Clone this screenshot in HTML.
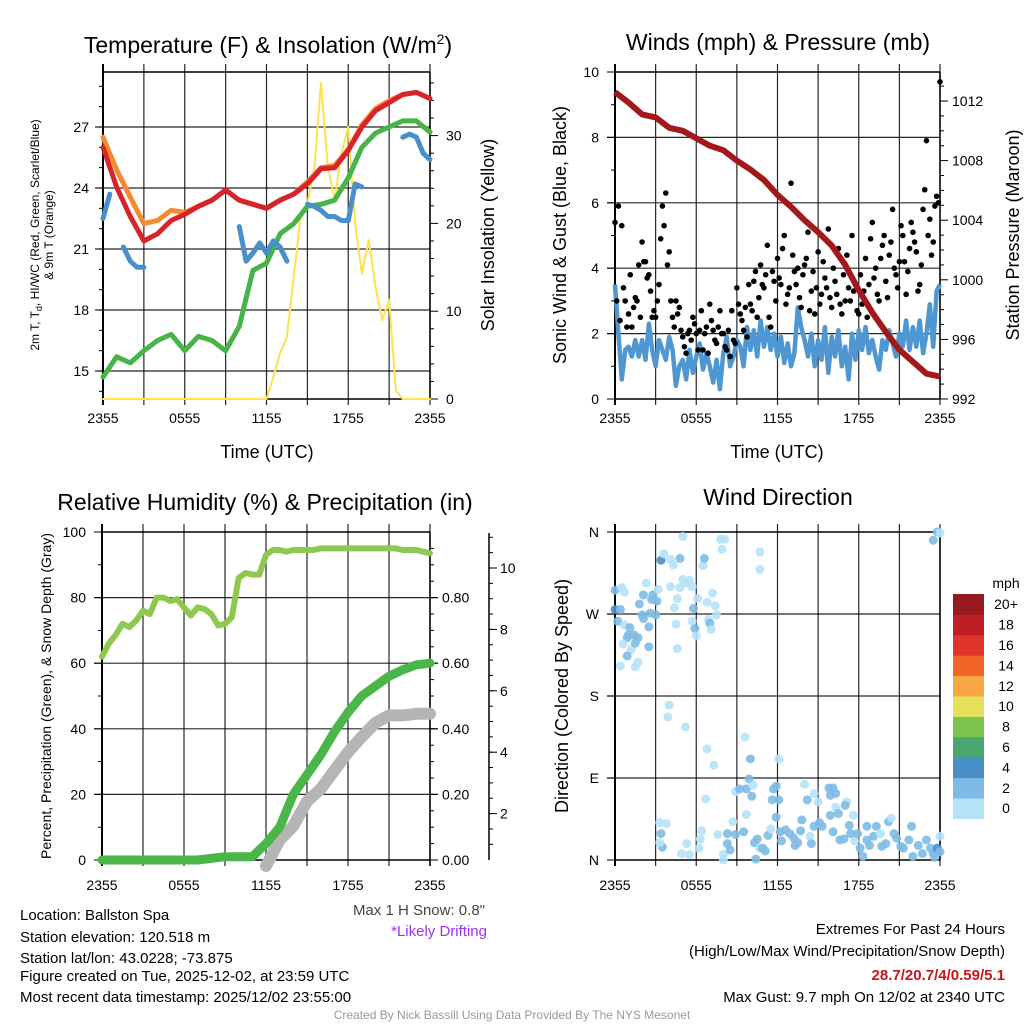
<!DOCTYPE html>
<html><head><meta charset="utf-8">
<style>
body{margin:0;background:#fff;}
svg{display:block;font-family:"Liberation Sans",Arial,sans-serif;}
</style></head>
<body>
<svg id="chart" width="1024" height="1024" viewBox="0 0 1024 1024" xmlns="http://www.w3.org/2000/svg">
<rect width="1024" height="1024" fill="#fff"/>
<g id="g1"></g>
<g id="g2"></g>
<g id="g3"></g>
<g id="g4"></g>
<g font-size="23" text-anchor="middle" fill="#000">
<text x="268" y="53">Temperature (F) &amp; Insolation (W/m<tspan font-size="14" dy="-9">2</tspan><tspan dy="9">)</tspan></text>
<text x="778" y="50">Winds (mph) &amp; Pressure (mb)</text>
<text x="265" y="510">Relative Humidity (%) &amp; Precipitation (in)</text>
<text x="778" y="505">Wind Direction</text>
</g>
<g font-size="18" text-anchor="middle">
<text x="267" y="458">Time (UTC)</text>
<text x="777" y="458">Time (UTC)</text>
<text transform="translate(45,235) rotate(-90)" font-size="12"><tspan x="0" dy="-6">2m T, T<tspan font-size="9" dy="3">d</tspan><tspan dy="-3">, HI/WC (Red, Green, Scarlet/Blue)</tspan></tspan><tspan x="0" dy="14">&amp; 9m T (Orange)</tspan></text>
<text transform="translate(494,235) rotate(-90)">Solar Insolation (Yellow)</text>
<text transform="translate(566,235) rotate(-90)">Sonic Wind &amp; Gust (Blue, Black)</text>
<text transform="translate(1019,235) rotate(-90)">Station Pressure (Maroon)</text>
<text transform="translate(51,696) rotate(-90)" font-size="14">Percent, Precipitation (Green), &amp; Snow Depth (Gray)</text>
<text transform="translate(568,696) rotate(-90)">Direction (Colored By Speed)</text>
</g>
<g font-size="15">
<text x="20" y="920">Location: Ballston Spa</text>
<text x="20" y="942">Station elevation: 120.518 m</text>
<text x="20" y="963">Station lat/lon: 43.0228; -73.875</text>
<text x="20" y="981">Figure created on Tue, 2025-12-02, at 23:59 UTC</text>
<text x="20" y="1002">Most recent data timestamp: 2025/12/02 23:55:00</text>
<text x="485" y="915" text-anchor="end" fill="#444">Max 1 H Snow: 0.8"</text>
<text x="487" y="936" text-anchor="end" fill="#a030f0">*Likely Drifting</text>
<text x="1005" y="934" text-anchor="end">Extremes For Past 24 Hours</text>
<text x="1005" y="956" text-anchor="end">(High/Low/Max Wind/Precipitation/Snow Depth)</text>
<text x="1005" y="980" text-anchor="end" fill="#c8161d" font-weight="bold">28.7/20.7/4/0.59/5.1</text>
<text x="1005" y="1002" text-anchor="end">Max Gust: 9.7 mph On 12/02 at 2340 UTC</text>
<text x="512" y="1019" text-anchor="middle" font-size="12" fill="#999">Created By Nick Bassill Using Data Provided By The NYS Mesonet</text>
</g>
</svg>
<script>
// ---------- data ----------
const timeTicks = ["2355","0555","1155","1755","2355"];
const tempRed = [26.0,24.05,22.6,21.4,21.75,22.4,22.7,23.1,23.4,23.9,23.4,23.2,23.0,23.4,23.7,24.2,24.95,25.0,25.85,27.0,27.8,28.2,28.6,28.7,28.4];
const tempOrange = [26.5,24.9,23.55,22.25,22.4,22.9,22.8,23.1,23.4,23.9,23.4,23.2,23.0,23.4,23.7,24.3,25.0,25.1,25.9,27.1,27.9,28.3,28.6,28.7,28.4];
const dewGreen = [14.7,15.7,15.4,16.0,16.5,16.8,16.0,16.7,16.5,16.0,17.2,19.95,20.3,21.75,22.25,23.1,23.2,23.4,24.5,26.0,26.7,27.0,27.3,27.3,26.75];
const windChillBlue = [22.5,23.7,null,21.1,20.4,20.1,20.1,null,null,null,null,20.8,null,null,null,null,null,null,null,null,22.1,20.4,20.8,21.3,20.8,21.4,21.1,20.4,null,null,23.2,23.1,22.9,22.6,22.6,22.4,22.4,24.2,24.05,null,26.0,null,26.5,null,26.5,26.65,26.5,25.7,25.4];
const solar = [0,0,0,0,0,0,0,0,0,0,0,0,0,0,0,0,0,0,0,0,0,0,0,0,0,2.5,5.2,7.1,14,20.8,22.3,26.1,36,26.5,22.7,28,31,20,14.3,18.1,12.8,9,11.3,1,0,0,0,0,0];
const tempTicks = [15,18,21,24,27];
const solarTicks = [0,10,20,30];

const pressure = [1012.6,1011.9,1011.1,1010.9,1010.2,1010,1009.5,1009,1008.7,1008,1007.4,1006.7,1005.7,1004.9,1004,1003.2,1002.3,1001,999.3,997.8,996.5,995.3,994.5,993.7,993.5];
const windSpeed = [3.5,2.0,0.6,1.5,1.6,1.3,1.8,1.3,1.8,1.2,2.3,1.5,1.0,1.8,1.5,1.2,1.9,1.5,0.4,1.0,1.2,0.6,1.5,0.8,1.3,1.7,0.9,1.4,1.0,0.5,1.2,0.3,1.4,1.9,1.0,1.3,1.8,1.6,1.0,2.2,1.5,2.1,1.3,2.4,1.6,2.2,1.5,2.0,1.3,1.9,1.1,1.7,1.0,1.4,2.8,2.2,1.8,1.3,2.0,1.0,1.8,1.2,2.2,0.8,1.9,1.3,2.1,1.0,1.6,0.6,2.0,1.2,2.1,1.5,2.2,1.4,1.8,1.3,0.9,1.8,1.5,2.1,1.7,1.3,2.0,1.6,2.4,1.5,2.2,1.6,2.4,1.4,2.0,2.9,1.6,3.3,3.5];
const gusts = [5.4,5.9,5.3,3.0,2.6,2.2,3.1,4.1,4.8,4.2,3.8,2.5,2.5,3.5,5.9,6.3,4.5,2.5,3.0,2.8,1.9,1.4,2.1,2.5,2.0,2.1,1.5,2.2,2.9,2.1,1.7,2.7,2.0,1.5,1.3,1.8,3.4,2.6,2.1,1.9,2.9,3.6,2.5,4.1,3.4,4.7,2.2,3.6,4.3,3.5,5.0,3.2,6.6,3.9,4.0,2.8,4.1,5.1,3.3,2.6,4.5,3.2,3.7,5.2,2.8,3.6,4.6,2.6,3.0,3.4,5.0,3.5,2.6,2.9,4.3,3.5,5.4,4.0,3.0,4.7,3.6,4.4,5.8,3.8,4.2,5.0,3.2,4.6,5.1,4.5,3.5,5.8,7.9,5.5,4.8,6.2,9.7];
const gustsOffset = [3.0,2.4,3.4,2.2,3.8,2.8,3.0,2.5,4.2,3.7,3.3,2.7,3.0,4.9,5.3,4.1,3.0,2.2,2.6,2.1,1.6,2.0,1.8,2.3,1.5,2.7,2.0,1.4,2.4,1.8,2.2,2.0,1.6,2.1,2.7,1.7,2.9,2.4,2.8,3.5,2.7,3.9,3.1,3.5,3.8,2.5,3.9,3.0,3.7,4.6,2.9,3.4,4.4,3.5,3.1,3.8,4.3,2.7,3.9,3.4,2.9,4.2,3.4,3.1,4.0,3.2,2.9,3.8,4.4,3.0,3.3,2.7,3.8,3.3,2.5,4.9,3.7,3.2,4.3,5.0,3.1,4.8,4.0,3.4,5.3,4.2,3.9,5.4,4.8,3.3,4.1,6.4,5.0,4.4,5.9,6.0];
const windTicks = [0,2,4,6,8,10];
const pressureTicks = [992,996,1000,1004,1008,1012];

const rh = [62,66,68.6,72,71,73,76,75,80,80,79,79.5,77,74.5,77,76.5,75,71.5,72,74,86,87.5,87,87,93,94.5,94.5,94,94.5,94.5,94.5,94.5,95,95,95,95,95,95,95,95,95,95,95,95,94.5,94.5,94.5,94,93.5];
const precip = [0,0,0,0,0,0,0,0,0.005,0.01,0.01,0.01,0.05,0.1,0.2,0.26,0.32,0.39,0.45,0.5,0.53,0.56,0.58,0.595,0.6];
const snowDepth = [null,null,null,null,null,null,null,null,null,null,null,null,0.2,1.14,1.6,2.4,2.8,3.4,4.0,4.5,4.95,5.2,5.2,5.25,5.25];
const pctTicks = [0,20,40,60,80,100];
const precipTicks = [0,0.2,0.4,0.6,0.8];
const snowTicks = [2,4,6,8,10];

const dirHour = [0,0,0.4,0.2,0.5,0.7,0.7,1.1,1.0,1.4,1.7,0.9,0.6,1.2,0.9,1.5,0.4,1.5,1.7,1.8,2.0,2.1,2.1,2.3,2.5,2.5,2.6,2.7,2.8,3.0,3.1,3.2,3.4,3.6,4.1,4.1,4.3,4.4,4.5,4.6,4.6,4.8,4.8,5.0,5.0,5.3,5.5,5.7,5.7,5.8,5.9,6.0,6.1,6.5,6.6,6.8,6.9,7.0,7.1,7.2,7.4,7.5,7.8,7.9,8.1,10.7,10.7,23.5,23.8,24.0,
4.0,3.9,5.2,6.8,7.3,9.6,10.0,12.1,9.9,8.9,9.2,9.7,10.1,10.2,11.7,11.9,11.6,12.1,6.7,9.7,14.0,14.2,14.7,15.8,16.1,15.9,16.3,17.1,17.0,16.3,16.5,15.9,17.6,15.0,
3.3,3.8,3.4,3.5,3.3,4.9,5.3,5.5,6.2,6.4,6.3,7.6,8.0,8.0,8.3,8.3,8.5,8.7,8.9,9.5,10.3,10.4,10.5,10.7,10.9,11.1,11.3,11.5,11.9,12.2,12.3,12.6,12.9,13.2,13.3,13.5,13.7,13.8,14.4,14.5,14.7,15.1,15.3,16.1,16.6,16.9,17.3,17.4,17.7,17.9,18.1,18.3,18.6,18.6,18.8,19.1,19.3,19.6,19.7,20.0,20.2,20.4,20.6,20.8,21.1,21.3,21.7,21.9,22.0,22.4,22.7,23.0,23.3,23.5,23.8,24.0,24.0,23.6];
const dirDeg = [296,275,275,262,299,294,258,255,247,247,244,244,237,231,224,238,213,212,217,281,269,265,291,304,256,234,271,286,291,269,284,297,329,336,300,330,324,277,259,232,287,299,331,355,308,304,307,300,262,276,254,246,287,323,331,283,264,260,253,293,279,269,352,341,352,338,319,351,360,359,
170,157,146,122,104,135,111,111,89,75,78,78,70,82,78,81,66,66,67,50,83,66,73,79,79,71,73,64,60,58,51,49,49,64,
41,40,29,14,19,7,18,6,13,32,23,28,6,0,29,18,11,42,28,31,19,1,23,13,13,10,27,34,47,31,21,33,29,24,16,19,32,44,26,18,37,41,37,31,22,23,38,29,21,29,13,4,37,22,16,26,37,29,15,18,42,46,29,24,15,13,22,37,4,16,7,22,13,7,13,26,9,3];
const dirSpeed = [3,5,3,3,1,1,1,3,3,3,3,3,1,1,3,3,1,1,1,3,3,3,3,1,3,3,3,3,3,3,3,1,4,1,1,1,1,1,1,1,1,1,3,1,1,1,1,1,1,3,3,1,1,1,3,1,1,3,1,1,1,1,1,1,1,1,1,3,3,1,
1,1,1,1,1,1,3,1,3,1,3,3,3,1,3,3,3,3,1,1,1,3,1,3,3,3,3,1,3,1,3,3,1,1,
1,1,3,3,1,1,1,1,1,1,1,1,1,1,3,3,3,1,3,3,3,3,3,1,3,3,3,1,3,3,3,3,3,3,3,3,3,3,1,3,3,3,3,3,3,3,3,3,1,3,3,3,3,3,3,3,3,1,3,3,3,1,3,3,3,3,3,3,3,3,3,3,3,3,4,1,3,3];
const dirLabels = ["N","E","S","W","N"];
const speedBins = ["0","2","4","6","8","10","12","14","16","18","20+"];
const speedColors = ["#b6e2f8","#7ebbe6","#4a90c8","#49a66f","#7cc24b","#e6e05a","#f9a845","#f26529","#e0342a","#bf1e24","#961a1d"];

// ---------- helpers ----------
const NS = "http://www.w3.org/2000/svg";
function mk(parent, tag, attrs){const e=document.createElementNS(NS,tag);for(const k in attrs)e.setAttribute(k,attrs[k]);parent.appendChild(e);return e;}
function txt(parent, x, y, s, size, anchor){const e=mk(parent,"text",{x:x,y:y,"font-size":size,"text-anchor":anchor||"middle"});e.textContent=s;return e;}
function pathFrom(vals, xf, yf, step){let d="",pen=false;vals.forEach((v,i)=>{if(v===null||v===undefined){pen=false;return;}d+=(pen?"L":"M")+xf(i*step).toFixed(1)+","+yf(v).toFixed(1);pen=true;});return d;}
function gridFrame(g,L,R,T,B){
  for(let k=0;k<=8;k++){const x=L+(R-L)*k/8;
    const l=mk(g,"line",{x1:x,y1:T-8,x2:x,y2:B+6,stroke:"#000","stroke-width":k==0?2:1.2,"stroke-opacity":k==0?1:0.85});
    
    }
  const f=mk(g,"path",{d:`M${L},${T}H${R}M${L},${B}H${R}`,stroke:"#000","stroke-width":1.5,fill:"none"});
  
  
}
function timeLabels(g,L,R,y){timeTicks.forEach((s,i)=>{const t=txt(g,L+(R-L)*i/4,y,s,14);
  
  });}

// ---------- panel 1 ----------
(function(){
const g=document.getElementById("g1");
const L=103,R=430,T=72,B=399;
const x=h=>L+(R-L)*h/24;
const yT=v=>371-(v-15)*61/3;
const yS=v=>399-v*8.78;
tempTicks.forEach(v=>{const l=mk(g,"line",{x1:L-8,y1:yT(v),x2:R,y2:yT(v),stroke:"#000","stroke-width":1.2,"stroke-opacity":0.85});
  
  
  const t=txt(g,L-14,yT(v)+5,String(v),14,"end");
  
  });
for(let v=14;v<=29;v++){mk(g,"line",{x1:L-4,y1:yT(v),x2:L,y2:yT(v),stroke:"#000"});}
gridFrame(g,L,R,T,B);
mk(g,"line",{x1:R,y1:T,x2:R,y2:B,stroke:"#000","stroke-width":1.5});
for(let v=0;v<=37;v+=2){mk(g,"line",{x1:R,y1:yS(v),x2:R+(v%10==0?8:4),y2:yS(v),stroke:"#000"});}
solarTicks.forEach(v=>{const t=txt(g,R+16,yS(v)+5,String(v),14,"start");
  
  });
timeLabels(g,L,R,423);
const lines=[[solar,0.5,yS,"#ffe04f",2,"solar-line"],[dewGreen,1,yT,"#46b446",5,"dewpoint-line"],[windChillBlue,0.5,yT,"#4a8fca",5,"windchill-line"],[tempOrange,1,yT,"#f68a2e",5,"temp-9m-line"],[tempRed,1,yT,"#d8232a",5,"temp-2m-line"]];
lines.forEach(([vals,st,yf,c,w,n])=>{const p=mk(g,"path",{d:pathFrom(vals,x,yf,st),stroke:c,"stroke-width":w,fill:"none","stroke-linejoin":"round","stroke-linecap":"round"});
  
  });
})();

// ---------- panel 2 ----------
(function(){
const g=document.getElementById("g2");
const L=615,R=940,T=72,B=399;
const x=h=>L+(R-L)*h/24;
const yW=v=>399-v*32.7;
const yP=v=>399-(v-992)*14.9;
windTicks.forEach(v=>{if(v>0&&v<10){const l=mk(g,"line",{x1:L-8,y1:yW(v),x2:R,y2:yW(v),stroke:"#000","stroke-width":1.2,"stroke-opacity":0.85});
  
  }
  mk(g,"line",{x1:L-8,y1:yW(v),x2:L,y2:yW(v),stroke:"#000"});
  const t=txt(g,L-16,yW(v)+5,String(v),14,"end");
  
  });
for(let v=1;v<10;v+=2)mk(g,"line",{x1:L-4,y1:yW(v),x2:L,y2:yW(v),stroke:"#000"});
gridFrame(g,L,R,T,B);
mk(g,"line",{x1:R,y1:T,x2:R,y2:B,stroke:"#000","stroke-width":1.5});
for(let v=992;v<=1013;v++)mk(g,"line",{x1:R,y1:yP(v),x2:R+(v%4==0?8:4),y2:yP(v),stroke:"#000"});
pressureTicks.forEach(v=>{const t=txt(g,R+12,yP(v)+5,String(v),14,"start");
  
  });
timeLabels(g,L,R,423);
const wp=mk(g,"path",{d:pathFrom(windSpeed,x,yW,0.25),stroke:"#4f97d2","stroke-width":4.5,fill:"none","stroke-linejoin":"round"});


gusts.forEach((v,i)=>{const c=mk(g,"circle",{cx:x(i*0.25),cy:yW(v),r:2.8,fill:"#000"});
  
  });
gustsOffset.forEach((v,i)=>{const c=mk(g,"circle",{cx:x(i*0.25+0.125),cy:yW(v),r:2.8,fill:"#000"});
  
  });
const pp=mk(g,"path",{d:pathFrom(pressure,x,yP,1),stroke:"#a3191b","stroke-width":6,fill:"none","stroke-linejoin":"round"});


})();

// ---------- panel 3 ----------
(function(){
const g=document.getElementById("g3");
const L=102,R=430,T=532,B=860;
const x=h=>L+(R-L)*h/24;
const yP=v=>860-v*3.28;
const yI=v=>860-v*328;
const yS=v=>Math.min(866,875-v*30.7);
pctTicks.forEach(v=>{if(v>0&&v<100){const l=mk(g,"line",{x1:L-8,y1:yP(v),x2:R+8,y2:yP(v),stroke:"#000","stroke-width":1.2,"stroke-opacity":0.85});
  
  }
  mk(g,"line",{x1:L-8,y1:yP(v),x2:L,y2:yP(v),stroke:"#000"});
  const t=txt(g,L-16,yP(v)+5,String(v),14,"end");
  
  });
for(let v=10;v<100;v+=20)mk(g,"line",{x1:L-4,y1:yP(v),x2:L,y2:yP(v),stroke:"#000"});
gridFrame(g,L,R,T,B);
mk(g,"line",{x1:R,y1:T,x2:R,y2:B+6,stroke:"#000","stroke-width":1.5});
for(let v=0;v<=1;v+=0.05)mk(g,"line",{x1:R,y1:yI(v),x2:R+4,y2:yI(v),stroke:"#000"});
precipTicks.forEach(v=>{mk(g,"line",{x1:R,y1:yI(v),x2:R+8,y2:yI(v),stroke:"#000"});
  const t=txt(g,R+12,yI(v)+5,v.toFixed(2),14,"start");
  
  });
mk(g,"line",{x1:489,y1:533,x2:489,y2:860,stroke:"#000","stroke-width":1.5});
for(let v=1;v<=11;v+=0.5){const yy=875-v*30.7;if(yy>=533)mk(g,"line",{x1:489,y1:yy,x2:493,y2:yy,stroke:"#000"});}
snowTicks.forEach(v=>{mk(g,"line",{x1:489,y1:875-v*30.7,x2:497,y2:875-v*30.7,stroke:"#000"});
  const t=txt(g,500,875-v*30.7+5,String(v),14,"start");
  
  });
timeLabels(g,L,R,890);
const sp=mk(g,"path",{d:pathFrom(snowDepth,x,yS,1),stroke:"#b5b5b5","stroke-width":12,fill:"none","stroke-linejoin":"round","stroke-linecap":"round"});


const pp=mk(g,"path",{d:pathFrom(precip,x,yI,1),stroke:"#4ab548","stroke-width":9,fill:"none","stroke-linejoin":"round","stroke-linecap":"round"});


const rp=mk(g,"path",{d:pathFrom(rh,x,yP,0.5),stroke:"#8ec84e","stroke-width":6,fill:"none","stroke-linejoin":"round","stroke-linecap":"round"});


})();

// ---------- panel 4 ----------
(function(){
const g=document.getElementById("g4");
const L=615,R=940,T=532,B=860;
const x=h=>L+(R-L)*h/24;
const yD=d=>860-d*328/360;
dirLabels.forEach((s,i)=>{const yy=yD(i*90);
  if(i>0&&i<4){const l=mk(g,"line",{x1:L-8,y1:yy,x2:R,y2:yy,stroke:"#000","stroke-width":1.2,"stroke-opacity":0.85});
  
  }
  mk(g,"line",{x1:L-8,y1:yy,x2:L,y2:yy,stroke:"#000"});
  const t=txt(g,L-16,yy+5,s,14,"end");
  
  });
gridFrame(g,L,R,T,B);
mk(g,"line",{x1:R,y1:T,x2:R,y2:B,stroke:"#000","stroke-width":1.5});
timeLabels(g,L,R,890);
dirHour.forEach((h,i)=>{const bin=Math.min(10,Math.floor(dirSpeed[i]/2));
  const c=mk(g,"circle",{cx:x(h),cy:yD(dirDeg[i]),r:4.5,fill:speedColors[bin],"fill-opacity":0.9});
  
  });
// colorbar
const cb=mk(g,"g",{});


const top=594,bh=20.4;
const u=txt(cb,1006,588,"mph",14);


speedBins.forEach((s,i)=>{const yy=top+(10-i)*bh;
  const r=mk(cb,"rect",{x:953,y:yy,width:31,height:bh+0.5,fill:speedColors[i]});
  
  
  const t=txt(cb,1006,yy+bh/2+5,s,14);
  
  });
})();
</script>
</body></html>
